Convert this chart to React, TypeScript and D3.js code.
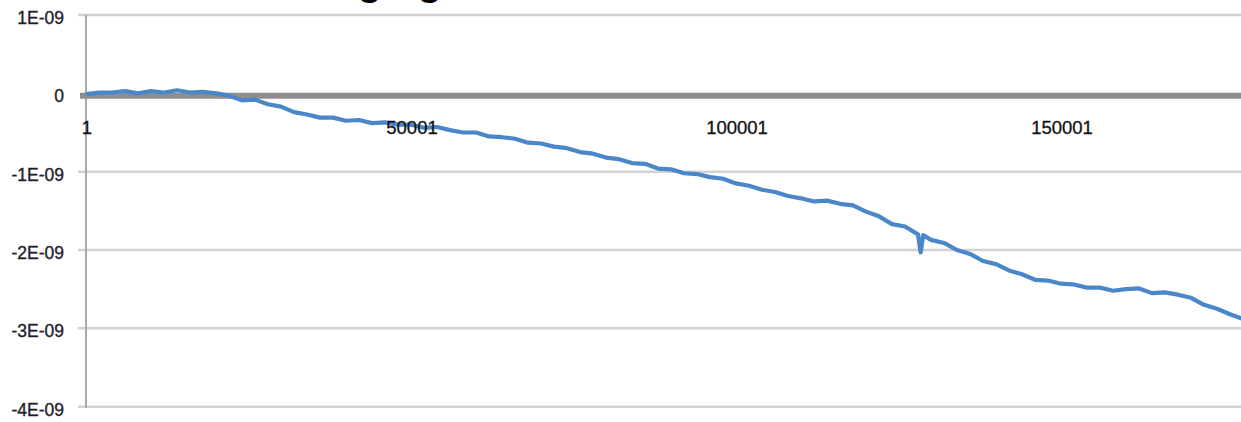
import React from "react";
import * as d3 from "d3";

// Sample index (category) and measured value in units of 1E-09
const sampleIndex = [
  1, 2001, 4001, 6001, 8001, 10001, 12001, 14001, 16001, 18001,
  20001, 22001, 24001, 26001, 28001, 30001, 32001, 34001, 36001, 38001,
  40001, 42001, 44001, 46001, 48001, 50001, 52001, 54001, 56001, 58001,
  60001, 62001, 64001, 66001, 68001, 70001, 72001, 74001, 76001, 78001,
  80001, 82001, 84001, 86001, 88001, 90001, 92001, 94001, 96001, 98001,
  100001, 102001, 104001, 106001, 108001, 110001, 112001, 114001, 116001, 118001,
  120001, 122001, 124001, 126001, 128001, 128401, 128801, 130001, 132001, 134001,
  136001, 138001, 140001, 142001, 144001, 146001, 148001, 150001, 152001, 154001,
  156001, 158001, 160001, 162001, 164001, 166001, 168001, 170001, 172001, 174001,
  176001, 178001,
];
const seriesValues = [
  -0.01, 0.01, 0.01, 0.03, 0.0, 0.03, 0.01, 0.04, 0.01, 0.02,
  0.0, -0.03, -0.09, -0.08, -0.14, -0.17, -0.24, -0.27, -0.31, -0.31,
  -0.35, -0.34, -0.38, -0.37, -0.4, -0.4, -0.44, -0.43, -0.47, -0.5,
  -0.5, -0.55, -0.56, -0.58, -0.63, -0.64, -0.68, -0.7, -0.75, -0.77,
  -0.82, -0.84, -0.89, -0.9, -0.96, -0.97, -1.02, -1.03, -1.07, -1.09,
  -1.15, -1.18, -1.23, -1.26, -1.31, -1.34, -1.38, -1.37, -1.41, -1.43,
  -1.51, -1.57, -1.67, -1.7, -1.8, -2.03, -1.81, -1.87, -1.91, -2.0,
  -2.05, -2.14, -2.18, -2.26, -2.31, -2.38, -2.39, -2.43, -2.44, -2.48,
  -2.48, -2.52, -2.5, -2.49, -2.55, -2.54, -2.57, -2.61, -2.7, -2.75,
  -2.82, -2.88,
];

const yTickValues = [1, 0, -1, -2, -3, -4];
const yTickLabels = ["1E-09", "0", "-1E-09", "-2E-09", "-3E-09", "-4E-09"];
const xTickValues = [1, 50001, 100001, 150001];
const xTickLabels = ["1", "50001", "100001", "150001"];
const titleText = "Charging";

const W = 1241;
const H = 422;

export default function App() {
  const x = d3.scaleLinear().domain([1, 150001]).range([86, 1061]);
  const y = d3.scaleLinear().domain([-4, 1]).range([406.7, 15]);

  const pts = sampleIndex.map((d, i) => [d, seriesValues[i]] as [number, number]);
  const line = d3
    .line<[number, number]>()
    .x((d) => x(d[0]))
    .y((d) => y(d[1]))
    .curve(d3.curveLinear);

  const font = "'Liberation Sans', Arial, sans-serif";

  return (
    <div style={{ position: "absolute", left: 0, top: 0, width: W, height: H, overflow: "hidden" }}>
      <svg width={W} height={H} style={{ display: "block", background: "#fff" }}>
        {/* clipped title */}
        <text
          x={442}
          y={-5}
          textAnchor="end"
          fontFamily={font}
          fontWeight="bold"
          fontSize={40}
          fill="#000"
        >
          {titleText}
        </text>

        {/* gridlines */}
        {yTickValues
          .filter((v) => v !== 0)
          .map((v) => (
            <line
              key={"g" + v}
              x1={78}
              x2={W}
              y1={y(v)}
              y2={y(v)}
              stroke="#d2d2d2"
              strokeWidth={2.5}
            />
          ))}

        {/* y axis */}
        <line x1={86} x2={86} y1={y(1)} y2={y(-4) + 1} stroke="#a9a9a9" strokeWidth={2} />

        {/* category axis at zero */}
        <line x1={80} x2={W} y1={y(0) + 2.5} y2={y(0) + 2.5} stroke="#8e8e8e" strokeWidth={6} />

        {/* y tick labels */}
        {yTickValues.map((v, i) => (
          <text
            key={"yl" + v}
            x={64}
            y={y(v) + 3}
            dy="0.35em"
            textAnchor="end"
            fontFamily={font}
            fontSize={17.5}
            fill="#1e1e2c"
            stroke="#1e1e2c"
            strokeWidth={0.35}
          >
            {yTickLabels[i]}
          </text>
        ))}

        {/* data line */}
        <path
          d={line(pts) || ""}
          fill="none"
          stroke="#4a86c8"
          strokeWidth={4.2}
          strokeLinejoin="round"
        />

        {/* x tick labels */}
        {xTickValues.map((v, i) => (
          <text
            key={"xl" + v}
            x={x(v) + 1}
            y={127.5}
            dy="0.35em"
            textAnchor="middle"
            fontFamily={font}
            fontSize={18.5}
            fill="#111"
            stroke="#111"
            strokeWidth={0.3}
          >
            {xTickLabels[i]}
          </text>
        ))}
      </svg>
    </div>
  );
}
